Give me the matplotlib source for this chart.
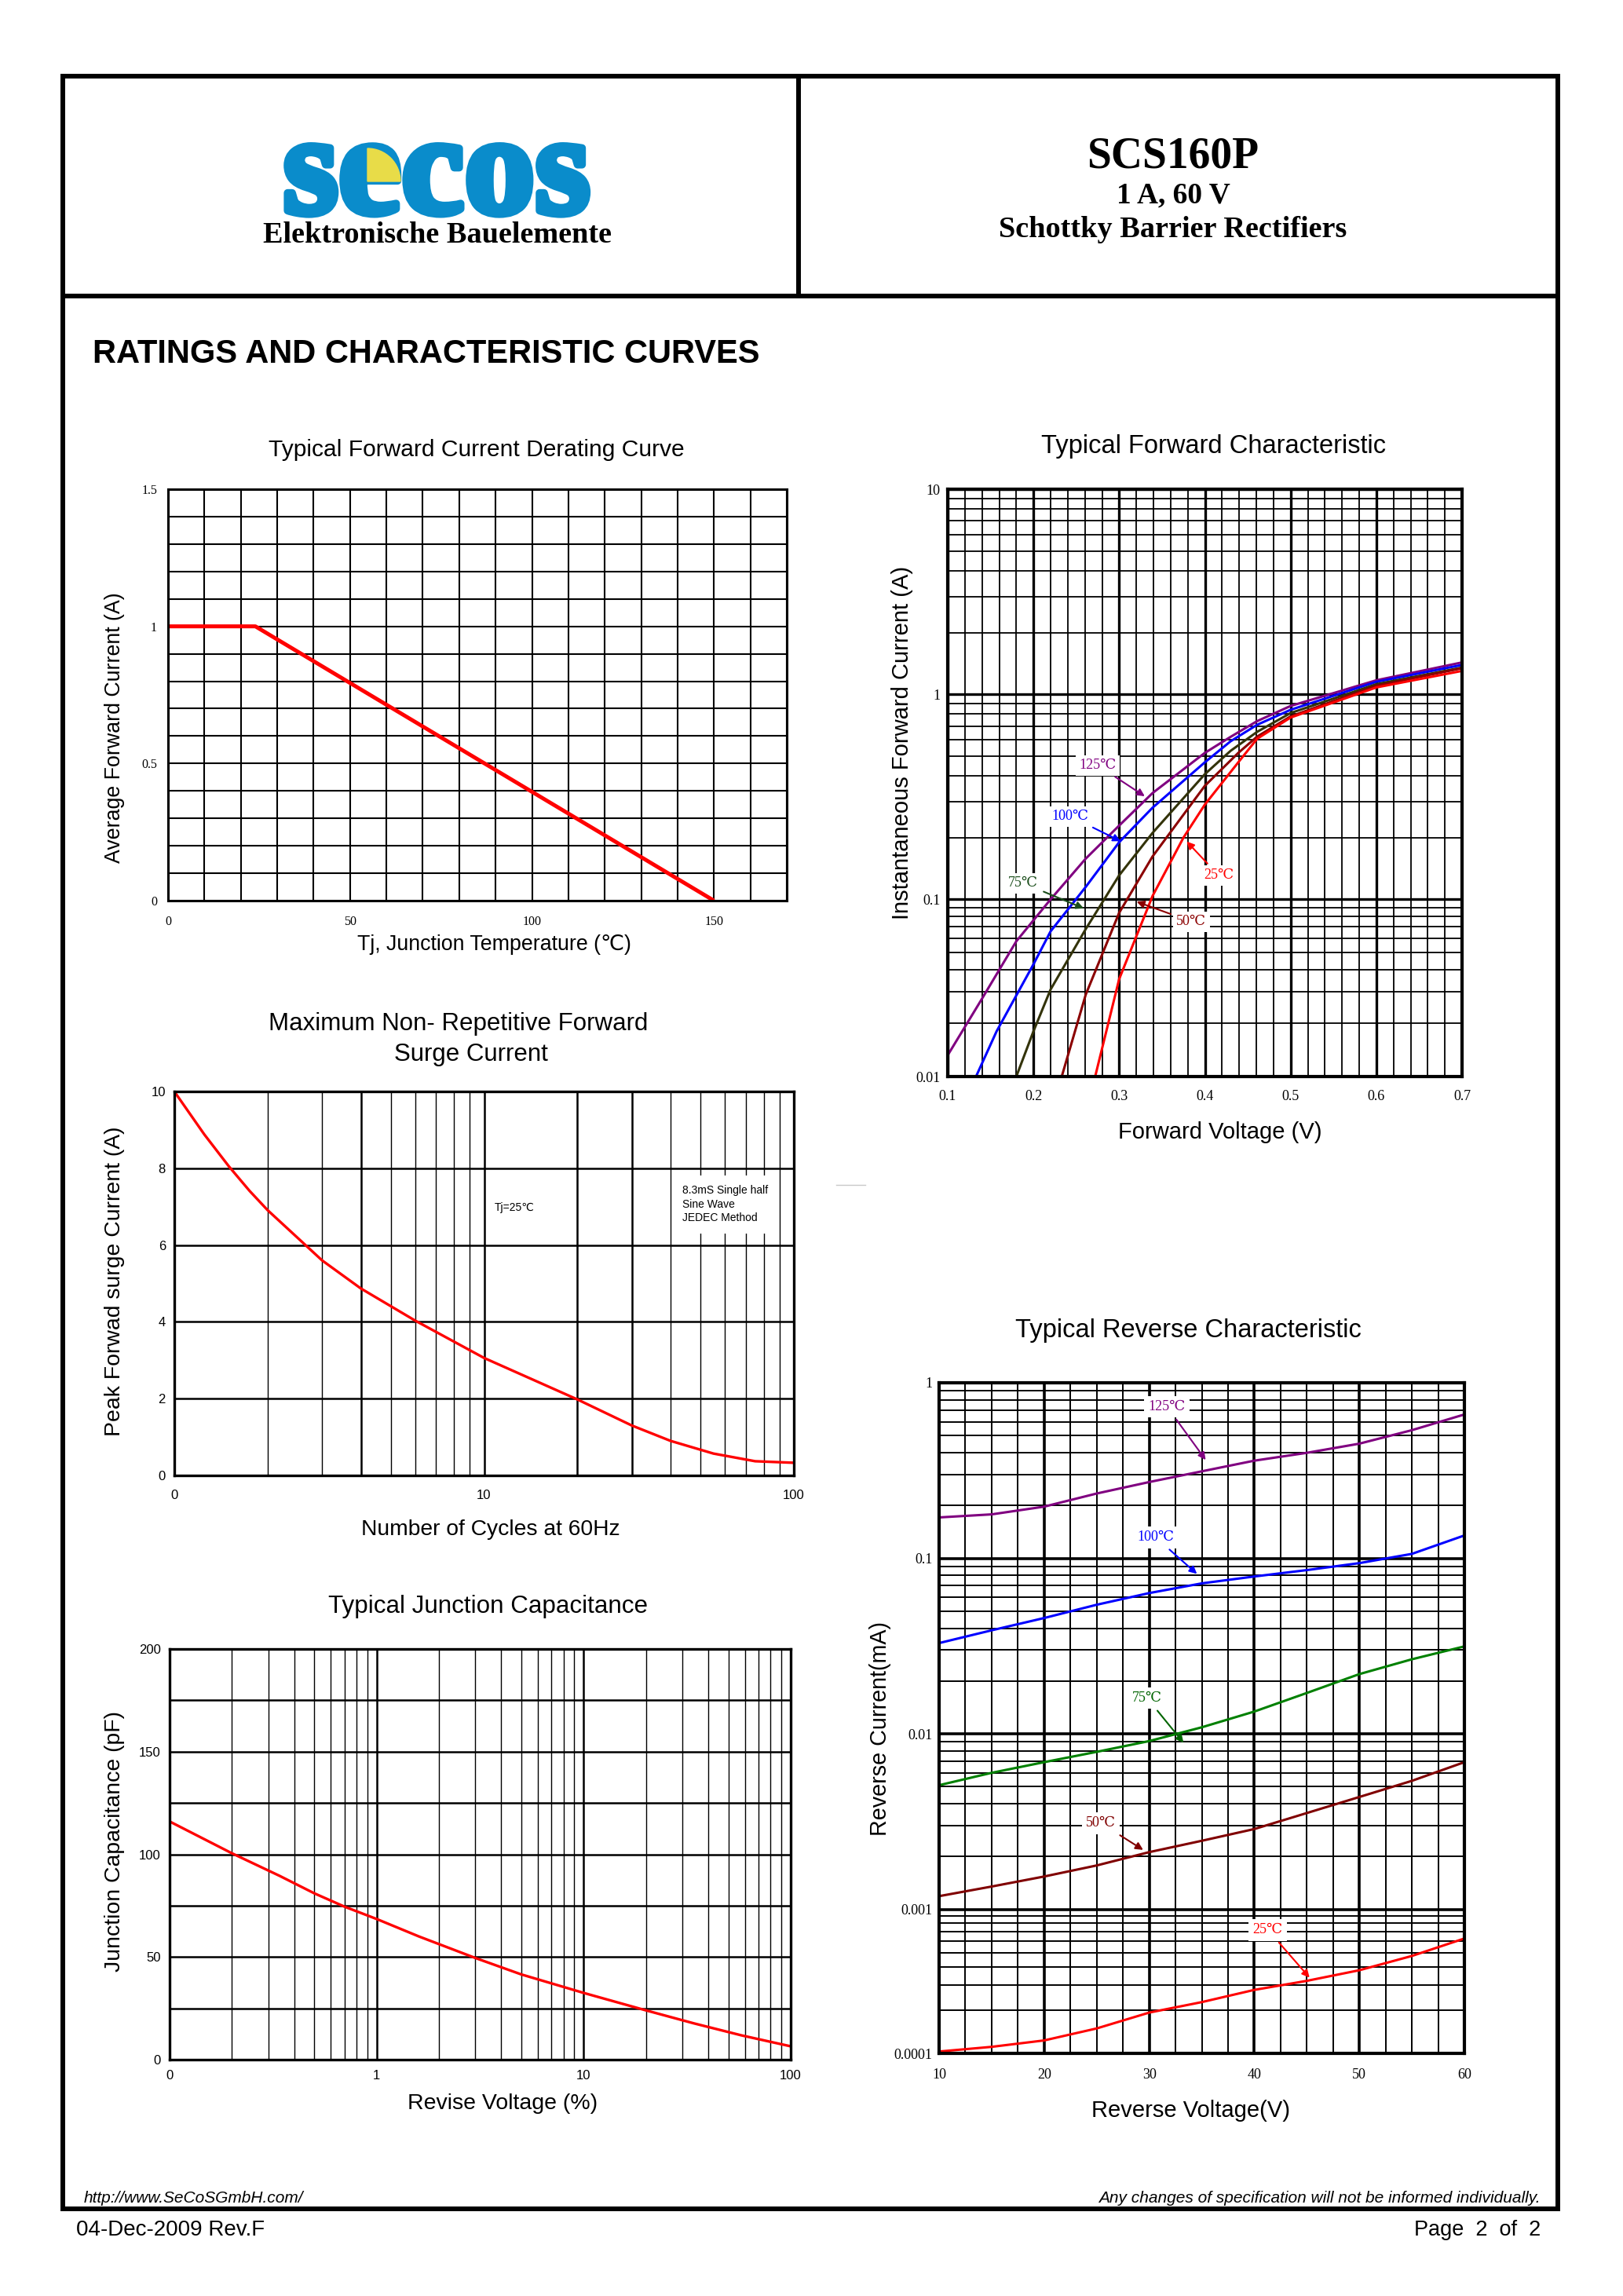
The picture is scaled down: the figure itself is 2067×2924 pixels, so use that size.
import numpy as np
import matplotlib
matplotlib.use("Agg")
import matplotlib.pyplot as plt
import matplotlib.patheffects as pe
from matplotlib.patches import Wedge
from matplotlib.ticker import NullFormatter

plt.rcParams['font.family'] = ['Liberation Sans', 'DejaVu Sans']
SERIF = ['Liberation Serif', 'DejaVu Serif']
SANS = ['Liberation Sans', 'DejaVu Sans']

# ---- data ----
# derating curve
tj = [0, 24, 150]
i_avg = [1.0, 1.0, 0.0]

# forward characteristic (V, A)
vf_125 = [0.10, 0.139, 0.18, 0.22, 0.261, 0.30, 0.339, 0.40, 0.43, 0.461, 0.50, 0.60, 0.70]
if_125 = [0.0132, 0.027, 0.058, 0.10, 0.158, 0.229, 0.33, 0.518, 0.62, 0.74, 0.877, 1.17, 1.43]
vf_100 = [0.133, 0.157, 0.20, 0.22, 0.261, 0.30, 0.339, 0.40, 0.43, 0.461, 0.50, 0.60, 0.70]
if_100 = [0.010, 0.018, 0.043, 0.066, 0.115, 0.19, 0.28, 0.466, 0.59, 0.71, 0.84, 1.15, 1.39]
vf_75 = [0.18, 0.20, 0.22, 0.261, 0.30, 0.339, 0.40, 0.43, 0.461, 0.50, 0.60, 0.70]
if_75 = [0.010, 0.018, 0.031, 0.068, 0.131, 0.211, 0.408, 0.53, 0.656, 0.81, 1.12, 1.35]
vf_50 = [0.233, 0.261, 0.30, 0.339, 0.40, 0.439, 0.461, 0.50, 0.60, 0.70]
if_50 = [0.010, 0.029, 0.084, 0.162, 0.358, 0.518, 0.622, 0.78, 1.10, 1.34]
vf_25 = [0.272, 0.30, 0.339, 0.375, 0.40, 0.439, 0.461, 0.50, 0.60, 0.70]
if_25 = [0.010, 0.0355, 0.104, 0.20, 0.29, 0.466, 0.607, 0.77, 1.08, 1.30]

# surge current
cycles = [1, 1.25, 1.5, 1.75, 2, 3, 4, 6, 10, 20, 30, 40, 55, 75, 100]
i_surge = [10, 8.88, 8.05, 7.41, 6.91, 5.6, 4.87, 4.03, 3.06, 1.98, 1.30, 0.90, 0.57, 0.37, 0.33]

# junction capacitance
vr_pct = [0.1, 0.2, 0.34, 0.5, 0.7, 1, 1.6, 3, 5, 10, 20, 34, 58, 100]
cj = [116, 100.5, 89.5, 81, 74.5, 68.5, 60, 49.5, 41.5, 32.5, 24, 17.7, 11.8, 6.5]

# reverse characteristic (V, mA)
vr = [10, 15, 20, 25, 30, 35, 40, 45, 50, 55, 60]
ir_125 = [0.171, 0.178, 0.197, 0.234, 0.272, 0.313, 0.36, 0.399, 0.45, 0.537, 0.66]
ir_100 = [0.0329, 0.0389, 0.0457, 0.0544, 0.0634, 0.072, 0.0788, 0.0857, 0.0939, 0.106, 0.135]
ir_75 = [0.0051, 0.0060, 0.0069, 0.0079, 0.0091, 0.0109, 0.0134, 0.0171, 0.0219, 0.0266, 0.0315]
ir_50 = [0.00119, 0.00135, 0.00154, 0.00178, 0.00212, 0.00246, 0.00287, 0.00354, 0.00437, 0.0054, 0.0069]
ir_25 = [0.000103, 0.000111, 0.000123, 0.000149, 0.000192, 0.000227, 0.000276, 0.000319, 0.000378, 0.000475, 0.000628]

W, H = 2067, 2924
fig = plt.figure(figsize=(W / 100, H / 100), dpi=100)

# page overlay in pixel coordinates
ax0 = fig.add_axes([0, 0, 1, 1])
ax0.set_xlim(0, W)
ax0.set_ylim(H, 0)
ax0.axis('off')

def box_ax(l, t, r, b):
    return fig.add_axes([l / W, 1 - b / H, (r - l) / W, (b - t) / H])

def ptext(x, y, s, **kw):
    ax0.text(x, y, s, **kw)

# the datasheet squeezes the lowest decade of its log axes
def squeezed_log(brk, k):
    lb = np.log10(brk)
    def fwd(v):
        l = np.log10(np.clip(v, 1e-12, None))
        return np.where(l < lb, lb + (l - lb) * k, l)
    def inv(y):
        y = np.asarray(y, dtype=float)
        return np.where(y < lb, 10 ** (lb + (y - lb) / k), 10 ** y)
    return fwd, inv

# frame
blw = 4.3
ax0.plot([80, 1984, 1984, 80, 80], [97, 97, 2813, 2813, 97], color='k', lw=blw, solid_joinstyle='miter')
ax0.plot([80, 1984], [377, 377], color='k', lw=blw)
ax0.plot([1017, 1017], [97, 377], color='k', lw=blw)
ax0.plot([1065, 1102], [1509, 1509], color='#c8c8c8', lw=1)

# header
ptext(556, 271, 'secos', fontsize=130, family=SERIF, weight='bold', color='#0a8ccb',
      ha='center', va='baseline',
      path_effects=[pe.withStroke(linewidth=7, foreground='#0a8ccb')])
ax0.add_patch(Wedge((468, 231), 42, 270, 360, color='#e8dc48', zorder=5))
ptext(557, 309, 'Elektronische Bauelemente', fontsize=27.5, family=SERIF, weight='bold',
      ha='center', va='baseline')
ptext(1494, 213, 'SCS160P', fontsize=40, family=SERIF, weight='bold', ha='center', va='baseline')
ptext(1494, 258, '1 A, 60 V', fontsize=27, family=SERIF, weight='bold', ha='center', va='baseline')
ptext(1494, 302, 'Schottky Barrier Rectifiers', fontsize=27.5, family=SERIF, weight='bold',
      ha='center', va='baseline')
ptext(118, 462, 'RATINGS AND CHARACTERISTIC CURVES', fontsize=30, weight='bold', va='baseline')

# footer
ptext(107, 2805, 'http://www.SeCoSGmbH.com/', fontsize=15, style='italic', va='baseline')
ptext(1962, 2805, 'Any changes of specification will not be informed individually.', fontsize=15,
      style='italic', ha='right', va='baseline')
ptext(97, 2847, '04-Dec-2009 Rev.F', fontsize=20, va='baseline')
ptext(1962, 2847, 'Page  2  of  2', fontsize=19.5, ha='right', va='baseline')


def style_axes(ax, border, tick_font, tick_size, xpad, ypad):
    for sp in ax.spines.values():
        sp.set_linewidth(border)
    ax.tick_params(which='both', length=0)
    ax.tick_params(axis='x', pad=xpad)
    ax.tick_params(axis='y', pad=ypad)
    for lab in ax.get_xticklabels() + ax.get_yticklabels():
        lab.set_family(tick_font)
        lab.set_fontsize(tick_size)
    ax.set_axisbelow(True)


# ---- 1: derating ----
ax1 = box_ax(214, 623, 1002, 1147)
ax1.plot(tj, i_avg, color='#ff0000', lw=3.6, solid_capstyle='butt')
ax1.set_xlim(0, 170)
ax1.set_ylim(0, 1.5)
ax1.set_xticks([0, 50, 100, 150])
ax1.set_xticklabels(['0', '50', '100', '150'])
ax1.set_yticks([0, 0.5, 1, 1.5])
ax1.set_yticklabels(['0', '0.5', '1', '1.5'])
ax1.set_xticks(np.arange(0, 171, 10), minor=True)
ax1.set_yticks(np.arange(0, 1.51, 0.1), minor=True)
ax1.grid(True, which='both', color='k', lw=1.5)
style_axes(ax1, 2.2, SERIF, 11.5, 14, 10)
ptext(607, 573, 'Typical Forward Current Derating Curve', fontsize=21.6, ha='center', va='center')
ptext(629, 1203, 'Tj, Junction Temperature (\u2103)', fontsize=19.3, ha='center', va='center')
ptext(146, 927, 'Average Forward Current (A)', fontsize=19.3, ha='center', va='center', rotation=90)

# ---- 2: forward characteristic ----
ax2 = box_ax(1207, 623, 1862, 1371)
ax2.set_yscale('function', functions=squeezed_log(0.1, 0.864))
fwd = [(vf_125, if_125, '#800080'), (vf_100, if_100, '#0000ff'), (vf_75, if_75, '#33330a'),
       (vf_50, if_50, '#8b0000'), (vf_25, if_25, '#ff0000')]
for v, i, c in fwd:
    ax2.plot(v, i, color=c, lw=2.2)
ax2.set_xlim(0.1, 0.7)
ax2.set_ylim(0.01, 10)
ax2.set_xticks([0.1, 0.2, 0.3, 0.4, 0.5, 0.6, 0.7])
ax2.set_xticklabels(['0.1', '0.2', '0.3', '0.4', '0.5', '0.6', '0.7'])
ax2.set_xticks(np.arange(0.1, 0.701, 0.02), minor=True)
ax2.set_yticks([0.01, 0.1, 1, 10])
ax2.set_yticklabels(['0.01', '0.1', '1', '10'])
ax2.set_yticks([m * d for d in [0.01, 0.1, 1] for m in range(2, 10)], minor=True)
ax2.yaxis.set_minor_formatter(NullFormatter())
ax2.xaxis.set_minor_formatter(NullFormatter())
ax2.grid(True, which='major', color='k', lw=2.4)
ax2.grid(True, which='minor', color='k', lw=1.3)
style_axes(ax2, 3.0, SERIF, 13, 12, 7)

fwd_labels = [('125\u2103', (0.275, 0.45), (0.332, 0.314), '#800080'),
              ('100\u2103', (0.243, 0.254), (0.304, 0.19), '#0000ff'),
              ('75\u2103', (0.188, 0.12), (0.261, 0.088), '#1a4d1a'),
              ('50\u2103', (0.384, 0.075), (0.318, 0.098), '#8b0000'),
              ('25\u2103', (0.416, 0.131), (0.377, 0.195), '#ff0000')]
for s, pos, tip, c in fwd_labels:
    ax2.annotate(s, xy=tip, xytext=pos, color=c, family=SERIF, fontsize=13, ha='center', va='center',
                 bbox=dict(boxstyle='square,pad=0.25', fc='white', ec='none'),
                 arrowprops=dict(arrowstyle='-|>', color=c, lw=1.5, mutation_scale=14))
ptext(1546, 569, 'Typical Forward Characteristic', fontsize=23.5, ha='center', va='center')
ptext(1554, 1442, 'Forward Voltage (V)', fontsize=21, ha='center', va='center')
ptext(1149, 946, 'Instantaneous Forward Current (A)', fontsize=21, ha='center', va='center', rotation=90)

# ---- 3: surge current ----
ax3 = box_ax(222, 1390, 1011, 1879)
ax3.set_xscale('log')
ax3.plot(cycles, i_surge, color='#ff0000', lw=2.4)
ax3.set_xlim(1, 100)
ax3.set_ylim(0, 10)
ax3.set_xticks([1, 4, 10, 20, 30, 100])
ax3.set_xticklabels(['0', '', '10', '', '', '100'])
ax3.set_xticks([m * d for d in [1, 10] for m in range(2, 10) if m * d not in (4, 20, 30)], minor=True)
ax3.xaxis.set_minor_formatter(NullFormatter())
ax3.set_yticks([0, 2, 4, 6, 8, 10])
ax3.grid(True, which='major', color='k', lw=1.8)
ax3.grid(True, which='minor', axis='x', color='k', lw=1.0)
style_axes(ax3, 2.4, SANS, 12, 13, 8)
ax3.text(12.5, 6.98, 'Tj=25\u2103', fontsize=10, ha='center', va='center',
         bbox=dict(boxstyle='square,pad=0.3', fc='white', ec='none'))
ax3.text(43.6, 7.06, '8.3mS Single half\nSine Wave\nJEDEC Method', fontsize=10, ha='left', va='center',
         linespacing=1.3, bbox=dict(boxstyle='square,pad=0.9', fc='white', ec='none'))
ptext(584, 1304, 'Maximum Non- Repetitive Forward', fontsize=22.5, ha='center', va='center')
ptext(600, 1343, 'Surge Current', fontsize=22.5, ha='center', va='center')
ptext(625, 1948, 'Number of Cycles at 60Hz', fontsize=20.3, ha='center', va='center')
ptext(146, 1632, 'Peak Forwad surge Current (A)', fontsize=20.4, ha='center', va='center', rotation=90)

# ---- 4: junction capacitance ----
ax4 = box_ax(216, 2100, 1007, 2623)
ax4.set_xscale('log')
ax4.plot(vr_pct, cj, color='#ff0000', lw=2.4)
ax4.set_xlim(0.1, 100)
ax4.set_ylim(0, 200)
ax4.set_xticks([0.1, 1, 10, 100])
ax4.set_xticklabels(['0', '1', '10', '100'])
ax4.set_xticks([m * d for d in [0.1, 1, 10] for m in range(2, 10)], minor=True)
ax4.xaxis.set_minor_formatter(NullFormatter())
ax4.set_yticks([0, 50, 100, 150, 200])
ax4.set_yticks(np.arange(0, 201, 25), minor=True)
ax4.grid(True, which='major', color='k', lw=1.8)
ax4.grid(True, which='minor', axis='y', color='k', lw=1.8)
ax4.grid(True, which='minor', axis='x', color='k', lw=1.0)
style_axes(ax4, 2.4, SANS, 12, 9, 8)
ptext(621, 2046, 'Typical Junction Capacitance', fontsize=22.6, ha='center', va='center')
ptext(640, 2679, 'Revise Voltage (%)', fontsize=20.5, ha='center', va='center')
ptext(146, 2345, 'Junction Capacitance (pF)', fontsize=20.4, ha='center', va='center', rotation=90)

# ---- 5: reverse characteristic ----
ax5 = box_ax(1196, 1761, 1865, 2615)
ax5.set_yscale('function', functions=squeezed_log(0.001, 0.82))
rev = [(ir_125, '#800080'), (ir_100, '#0000ff'), (ir_75, '#008000'), (ir_50, '#800000'), (ir_25, '#ff0000')]
for i, c in rev:
    ax5.plot(vr, i, color=c, lw=2.2)
ax5.set_xlim(10, 60)
ax5.set_ylim(0.0001, 1)
ax5.set_xticks([10, 20, 30, 40, 50, 60])
ax5.set_xticks(np.arange(10, 60.1, 2.5), minor=True)
ax5.xaxis.set_minor_formatter(NullFormatter())
ax5.set_yticks([0.0001, 0.001, 0.01, 0.1, 1])
ax5.set_yticklabels(['0.0001', '0.001', '0.01', '0.1', '1'])
ax5.set_yticks([m * d for d in [0.0001, 0.001, 0.01, 0.1] for m in range(2, 10)], minor=True)
ax5.yaxis.set_minor_formatter(NullFormatter())
ax5.grid(True, which='major', color='k', lw=2.6)
ax5.grid(True, which='minor', color='k', lw=1.4)
style_axes(ax5, 3.0, SERIF, 13, 14, 6)

rev_labels = [('125\u2103', (31.7, 0.73), (35.5, 0.355), '#800080'),
              ('100\u2103', (30.6, 0.132), (34.7, 0.08), '#0000ff'),
              ('75\u2103', (29.8, 0.016), (33.4, 0.0087), '#006400'),
              ('50\u2103', (25.4, 0.0031), (29.6, 0.00215), '#800000'),
              ('25\u2103', (41.3, 0.00072), (45.4, 0.000327), '#ff0000')]
for s, pos, tip, c in rev_labels:
    ax5.annotate(s, xy=tip, xytext=pos, color=c, family=SERIF, fontsize=13, ha='center', va='center',
                 bbox=dict(boxstyle='square,pad=0.3', fc='white', ec='none'),
                 arrowprops=dict(arrowstyle='-|>', color=c, lw=1.5, mutation_scale=14))
ptext(1513, 1694, 'Typical Reverse Characteristic', fontsize=23.5, ha='center', va='center')
ptext(1517, 2688, 'Reverse Voltage(V)', fontsize=21, ha='center', va='center')
ptext(1121, 2201, 'Reverse Current(mA)', fontsize=20.7, ha='center', va='center', rotation=90)

fig.savefig('out.png', dpi=100)
